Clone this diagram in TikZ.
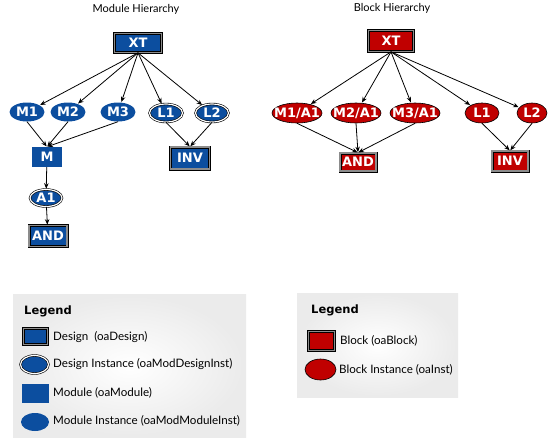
\documentclass[tikz,border=0pt]{standalone}
\usepackage{fontspec}
\setmainfont{Lato}
\newfontfamily\labelfont{DejaVu Sans}
\usetikzlibrary{shapes.geometric,arrows.meta}
\definecolor{modblue}{HTML}{0C4E9F}
\definecolor{blkred}{HTML}{C00000}
\definecolor{ringgray}{HTML}{8C8C8C}

\begin{document}
\begin{tikzpicture}[x=1pt,y=-1pt,
        every node/.style={inner sep=0pt},
        lbl/.style={font=\labelfont\bfseries\fontsize{13}{13}\selectfont, text=white},
        design/.style={lbl, rectangle, fill=modblue, draw=black, line width=0.7pt, double=ringgray, double distance=1.6pt},
        dinst/.style={lbl, ellipse, inner xsep=-4pt, fill=modblue, draw=black, line width=0.6pt, double=white, double distance=1.2pt},
        module/.style={lbl, rectangle, fill=modblue},
        minst/.style={lbl, ellipse, inner xsep=-4pt, fill=modblue},
        block/.style={design, fill=blkred},
        binst/.style={lbl, ellipse, inner xsep=-7pt, fill=blkred, draw=black, line width=0.6pt},
        link/.style={-{Stealth[length=5.5pt,width=4.5pt]}, line width=0.8pt, shorten >=0.5pt},
        legtext/.style={anchor=west, font=\fontsize{11.6}{11.6}\selectfont},
        legtitle/.style={anchor=west, font=\labelfont\bfseries\fontsize{11.5}{11.5}\selectfont}]
        \useasboundingbox (0,0) rectangle (552,440);

        % Module hierarchy
        \node (titlel) at (136,9) {\fontsize{11}{11}\selectfont Module Hierarchy};
        \node[design, minimum width=47pt, minimum height=19pt] (xt) at (138,43) {XT};
        \foreach \n/\x/\t in {m1/27/M1, m2/68/M2, m3/118/M3} {
            \node[minst, minimum width=35pt, minimum height=19pt] (\n) at (\x,112) {\t};
        }
        \foreach \n/\x/\t in {l1/166/L1, l2/212/L2} {
            \node[dinst, minimum width=33pt, minimum height=18pt] (\n) at (\x,113) {\t};
        }
        \node[module, minimum width=30pt, minimum height=20pt] (m) at (47,157) {M};
        \node[dinst, minimum width=32pt, minimum height=17pt] (a1) at (46,198) {A1};
        \node[design, minimum width=38pt, minimum height=21pt] (and) at (48,236) {AND};
        \node[design, minimum width=39pt, minimum height=22pt] (inv) at (190,158) {INV};

        \foreach \n in {m1,m2,m3,l1,l2} {
            \draw[link] (xt.south) -- (\n);
        }
        \foreach \n in {m1,m2,m3} {
            \draw[link] (\n.south) -- (m.north);
        }
        \foreach \n in {l1,l2} {
            \draw[link] (\n.south) -- (inv.north);
        }
        \draw[link] (m) -- (a1);
        \draw[link] (a1) -- (and);

        % Block hierarchy
        \node (titler) at (392,8) {\fontsize{11}{11}\selectfont Block Hierarchy};
        \node[block, minimum width=45pt, minimum height=21pt] (bxt) at (391,41) {XT};
        \foreach \n/\x/\t in {ba1/297/{M1/A1}, ba2/356/{M2/A1}, ba3/415/{M3/A1}} {
            \node[binst, minimum width=50pt, minimum height=20pt] (\n) at (\x,113) {\t};
        }
        \node[binst, minimum width=34pt, minimum height=20pt] (bl1) at (482,113) {L1};
        \node[binst, minimum width=30pt, minimum height=20pt] (bl2) at (532,113) {L2};
        \node[block, minimum width=36pt, minimum height=18pt] (band) at (358,162) {AND};
        \node[block, minimum width=36pt, minimum height=20pt] (binv) at (510,161) {INV};

        \foreach \n in {ba1,ba2,ba3,bl1,bl2} {
            \draw[link] (bxt.south) -- (\n);
        }
        \foreach \n in {ba1,ba2,ba3} {
            \draw[link] (\n.south) -- (band.north);
        }
        \foreach \n in {bl1,bl2} {
            \draw[link] (\n.south) -- (binv.north);
        }

        % Legends
        \shade[inner color=white, outer color=black!8] (13,294) rectangle (246,437);
        \node[legtitle] (legl) at (24,311) {Legend};
        \node[design, minimum width=24pt, minimum height=16pt] (symdesign) at (35.5,336.5) {};
        \node[legtext] (txtdesign) at (53,337) {Design\ \ (oaDesign)};
        \node[dinst, minimum width=28pt, minimum height=18pt] (symdinst) at (34.5,364.5) {};
        \node[legtext] (txtdinst) at (53,364) {Design Instance (oaModDesignInst)};
        \node[module, minimum width=27pt, minimum height=19pt] (symmodule) at (35.5,393.5) {};
        \node[legtext] (txtmodule) at (53,393) {Module (oaModule)};
        \node[minst, minimum width=28pt, minimum height=18pt] (symminst) at (35,422) {};
        \node[legtext] (txtminst) at (53,421) {Module Instance (oaModModuleInst)};

        \shade[inner color=white, outer color=black!8] (297,293) rectangle (458,397);
        \node[legtitle] (legr) at (311,310) {Legend};
        \node[block, minimum width=26pt, minimum height=19pt] (symblock) at (321.5,341) {};
        \node[legtext] (txtblock) at (340,341) {Block (oaBlock)};
        \node[binst, minimum width=31pt, minimum height=21pt] (symbinst) at (320.5,369.5) {};
        \node[legtext] (txtbinst) at (339,370) {Block Instance (oaInst)};
\end{tikzpicture}
\end{document}
